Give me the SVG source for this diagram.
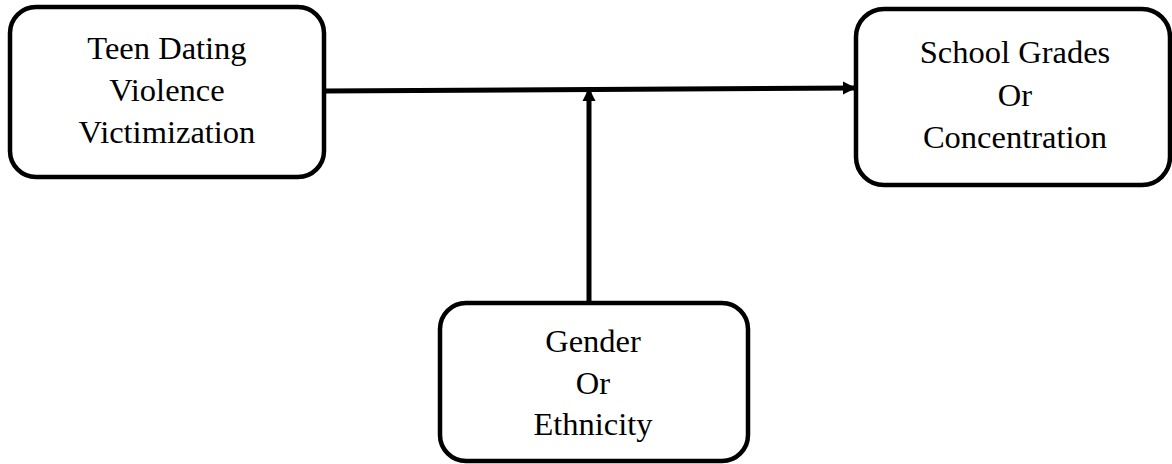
<svg xmlns="http://www.w3.org/2000/svg" width="1172" height="464" viewBox="0 0 1172 464">
<style>
.box{fill:#fff;stroke:#000;stroke-width:4.5}
.t{font-family:"Liberation Serif","Times New Roman",serif;font-size:32.5px;fill:#000;text-anchor:middle}
.c{stroke:#000;stroke-width:5;fill:none}
</style>
<defs>
<marker id="ah" viewBox="0 0 10 10" refX="10" refY="5" markerWidth="2.6" markerHeight="3" markerUnits="strokeWidth" orient="auto">
<path d="M0,0 L10,5 L0,10 z" fill="#000"/>
</marker>
</defs>
<rect width="1172" height="464" fill="#fff"/>
<g id="connectors">
<line class="c" x1="324" y1="91" x2="856" y2="88" marker-end="url(#ah)"/>
<line class="c" x1="589" y1="303" x2="589" y2="88" marker-end="url(#ah)"/>
</g>
<g id="node-tdv">
<rect class="box" x="10" y="7" width="314" height="170" rx="26"/>
<text class="t" x="167" y="59">Teen Dating</text>
<text class="t" x="167" y="101">Violence</text>
<text class="t" x="167" y="143">Victimization</text>
</g>
<g id="node-grades">
<rect class="box" x="856" y="9" width="314" height="176" rx="28"/>
<text class="t" x="1015" y="63">School Grades</text>
<text class="t" x="1015" y="106">Or</text>
<text class="t" x="1015" y="148">Concentration</text>
</g>
<g id="node-gender">
<rect class="box" x="440" y="303" width="308" height="158" rx="26"/>
<text class="t" x="593" y="352">Gender</text>
<text class="t" x="593" y="394">Or</text>
<text class="t" x="593" y="435">Ethnicity</text>
</g>
</svg>
